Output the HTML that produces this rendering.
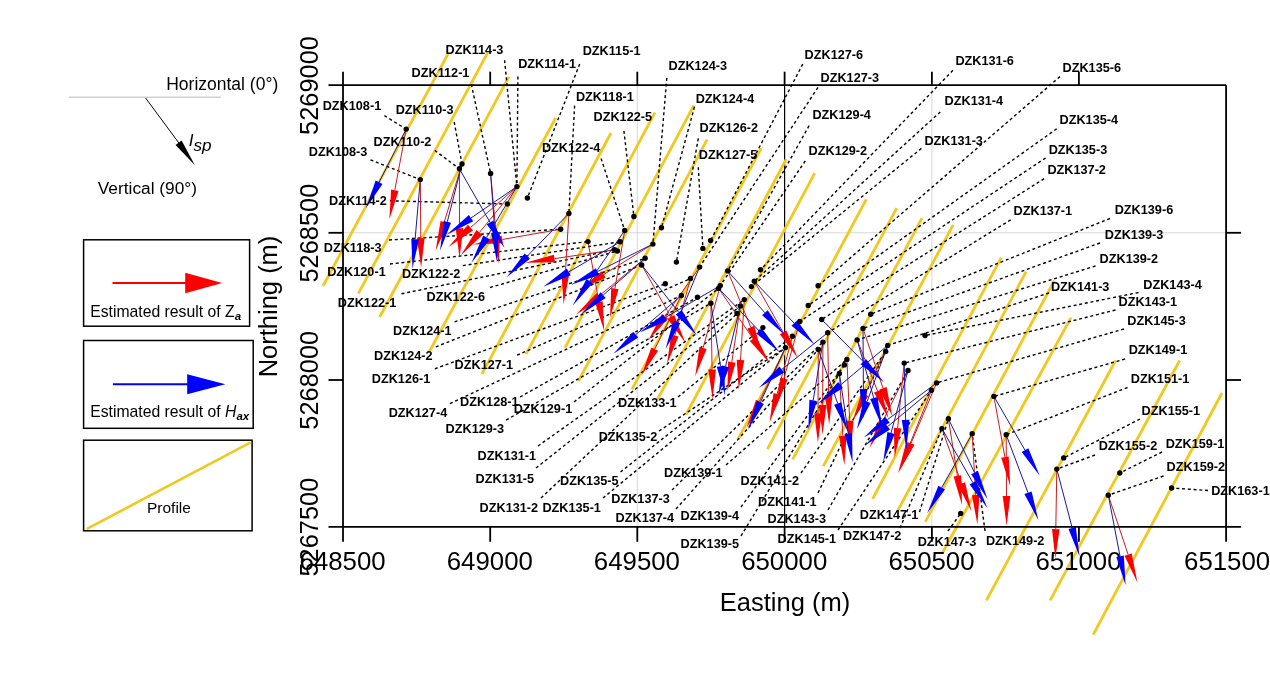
<!DOCTYPE html>
<html><head><meta charset="utf-8"><title>Figure</title>
<style>html,body{margin:0;padding:0;background:#fff;}body{width:1270px;height:696px;position:relative;overflow:hidden;font-family:"Liberation Sans",sans-serif;}</style></head>
<body>
<svg width="1270" height="696" viewBox="0 0 1270 696" style="position:absolute;left:0;top:0;font-family:'Liberation Sans',sans-serif;filter:opacity(1)">
<rect width="1270" height="696" fill="#fff"/>
<g stroke="#cdcdcd" stroke-width="0.8">
<line x1="637.3" y1="85.2" x2="637.3" y2="526.8"/>
<line x1="931.9" y1="85.2" x2="931.9" y2="526.8"/>
<line x1="343.0" y1="232.8" x2="1226.1" y2="232.8"/>
</g>
<line x1="784.6" y1="85.2" x2="784.6" y2="526.8" stroke="#000" stroke-width="1.2"/>
<g stroke="#F3C81E" stroke-width="2.8" stroke-linecap="butt">
<line x1="448.7" y1="52.7" x2="323" y2="286"/>
<line x1="487.7" y1="52.7" x2="358.3" y2="293.6"/>
<line x1="509" y1="76.6" x2="379.7" y2="317"/>
<line x1="555.7" y1="118" x2="429.1" y2="352.2"/>
<line x1="611" y1="133" x2="481.9" y2="374.2"/>
<line x1="654.9" y1="112.6" x2="526" y2="354.1"/>
<line x1="693.7" y1="105.6" x2="565" y2="347.8"/>
<line x1="707.1" y1="139.6" x2="578.4" y2="381.2"/>
<line x1="761.2" y1="148.4" x2="631.9" y2="389.3"/>
<line x1="786.4" y1="159" x2="657.6" y2="399.1"/>
<line x1="814.7" y1="173.1" x2="686.1" y2="414.5"/>
<line x1="866.3" y1="199.3" x2="737.8" y2="439.7"/>
<line x1="896.7" y1="208.2" x2="767.4" y2="449.2"/>
<line x1="922" y1="218.2" x2="792.6" y2="459.3"/>
<line x1="953.2" y1="224.9" x2="823.3" y2="466.1"/>
<line x1="1001.2" y1="257.6" x2="872.6" y2="498.9"/>
<line x1="1026.2" y1="271.6" x2="897.7" y2="510.7"/>
<line x1="1054.4" y1="280.5" x2="925.3" y2="521.9"/>
<line x1="1071" y1="317.6" x2="942.3" y2="553.1"/>
<line x1="1115.6" y1="360.5" x2="986.4" y2="600.3"/>
<line x1="1179.7" y1="360.5" x2="1050.1" y2="600.3"/>
<line x1="1222" y1="393" x2="1093.2" y2="634.6"/>
</g>
<g font-size="25.8" fill="#000" text-anchor="middle">
<text x="342.6" y="569.8">648500</text>
<text x="489.8" y="569.8">649000</text>
<text x="636.9" y="569.8">649500</text>
<text x="784.2" y="569.8">650000</text>
<text x="931.5" y="569.8">650500</text>
<text x="1078.5" y="569.8">651000</text>
<text x="1227.1" y="569.8">651500</text>
<text transform="translate(317.6,85.5) rotate(-90)" font-size="25.4">5269000</text>
<text transform="translate(317.6,233.10000000000002) rotate(-90)" font-size="25.4">5268500</text>
<text transform="translate(317.6,380.3) rotate(-90)" font-size="25.4">5268000</text>
<text transform="translate(317.6,527.0999999999999) rotate(-90)" font-size="25.4">5267500</text>
<text x="785" y="610.5" font-size="25.5">Easting (m)</text>
<text transform="translate(277,306.5) rotate(-90)" font-size="25.5">Northing (m)</text>
</g>
<g stroke="#000" stroke-width="1.4" stroke-dasharray="3 2.75" fill="none">
<line x1="384.4" y1="115.7" x2="406.2" y2="129.1"/>
<line x1="370.5" y1="159.8" x2="420.3" y2="179.6"/>
<line x1="434.8" y1="150.4" x2="459.4" y2="168.8"/>
<line x1="454.2" y1="122" x2="462" y2="164"/>
<line x1="471.3" y1="84.2" x2="490.6" y2="173.4"/>
<line x1="504.6" y1="60.2" x2="516.9" y2="186.6"/>
<line x1="517.9" y1="76.6" x2="516.9" y2="186.6"/>
<line x1="390" y1="200.8" x2="507.4" y2="204"/>
<line x1="579.7" y1="64" x2="527.4" y2="198"/>
<line x1="574.6" y1="105.6" x2="568.9" y2="213.5"/>
<line x1="623.9" y1="130.8" x2="633.9" y2="216.5"/>
<line x1="601.1" y1="158.5" x2="624.7" y2="230.5"/>
<line x1="666.8" y1="77.9" x2="652.9" y2="244.1"/>
<line x1="694.5" y1="106.8" x2="661.5" y2="227.7"/>
<line x1="698.3" y1="138.3" x2="676.4" y2="262.1"/>
<line x1="698.3" y1="167.3" x2="702.9" y2="248.4"/>
<line x1="802.8" y1="64" x2="710.6" y2="240.5"/>
<line x1="818" y1="87.4" x2="699.6" y2="267.1"/>
<line x1="809.1" y1="125.7" x2="727.7" y2="270.9"/>
<line x1="805.3" y1="161" x2="720.3" y2="285.6"/>
<line x1="952.9" y1="70.3" x2="760.5" y2="269.8"/>
<line x1="940.3" y1="111.9" x2="754.3" y2="281.3"/>
<line x1="921.4" y1="148.4" x2="751.4" y2="286.6"/>
<line x1="1060" y1="76.6" x2="818.1" y2="285.8"/>
<line x1="1056.7" y1="128.8" x2="808.2" y2="305.5"/>
<line x1="1045.6" y1="158" x2="799.8" y2="321.5"/>
<line x1="1044.1" y1="178.7" x2="821.7" y2="319.5"/>
<line x1="1010.7" y1="219.8" x2="827.7" y2="332.7"/>
<line x1="1110" y1="218.5" x2="870.7" y2="314.2"/>
<line x1="1100" y1="243" x2="863" y2="328.4"/>
<line x1="1095.5" y1="266" x2="857.1" y2="339.9"/>
<line x1="1049" y1="293" x2="887.7" y2="345.4"/>
<line x1="1138.5" y1="292.5" x2="925" y2="335.5"/>
<line x1="1115.5" y1="310" x2="904.2" y2="363.1"/>
<line x1="1124" y1="329" x2="936.6" y2="382.9"/>
<line x1="1125" y1="359" x2="993.9" y2="396.4"/>
<line x1="1127.5" y1="387.5" x2="1006.2" y2="434.8"/>
<line x1="1140" y1="419" x2="1063.7" y2="457.9"/>
<line x1="1095" y1="455" x2="1056.8" y2="469.1"/>
<line x1="1162" y1="452" x2="1119.8" y2="473"/>
<line x1="1163.5" y1="476" x2="1108.3" y2="495.2"/>
<line x1="1208" y1="490.5" x2="1171.6" y2="488"/>
<line x1="389" y1="240" x2="560.7" y2="229.2"/>
<line x1="390" y1="264" x2="588" y2="241.6"/>
<line x1="462.9" y1="265.6" x2="620.2" y2="241.8"/>
<line x1="401.5" y1="293.8" x2="614.6" y2="249.8"/>
<line x1="490" y1="287.5" x2="617.4" y2="251"/>
<line x1="454.6" y1="321.9" x2="645.1" y2="258.3"/>
<line x1="435.8" y1="346.9" x2="641.7" y2="265"/>
<line x1="517.1" y1="355.2" x2="690.5" y2="278.5"/>
<line x1="434.8" y1="368.8" x2="665.3" y2="283.8"/>
<line x1="449.9" y1="403.6" x2="681.4" y2="295.5"/>
<line x1="520" y1="397" x2="697.5" y2="297.2"/>
<line x1="574" y1="402" x2="718.6" y2="288.4"/>
<line x1="506.1" y1="420.1" x2="710.9" y2="303.2"/>
<line x1="538" y1="446" x2="744.3" y2="299.6"/>
<line x1="536" y1="468" x2="740.4" y2="306"/>
<line x1="541" y1="498" x2="737.1" y2="313.5"/>
<line x1="603" y1="498" x2="785.5" y2="347.6"/>
<line x1="620.5" y1="472" x2="792.4" y2="336.2"/>
<line x1="659" y1="431" x2="785.5" y2="347.6"/>
<line x1="678" y1="397" x2="762.9" y2="327.6"/>
<line x1="672" y1="490" x2="822.9" y2="342.1"/>
<line x1="676" y1="509" x2="818.3" y2="349.5"/>
<line x1="726" y1="465" x2="846.9" y2="359.4"/>
<line x1="741" y1="507" x2="844.4" y2="364.9"/>
<line x1="741" y1="536" x2="839.4" y2="373.5"/>
<line x1="801" y1="473" x2="885.7" y2="351.5"/>
<line x1="818" y1="493" x2="885.7" y2="351.5"/>
<line x1="828" y1="510" x2="908" y2="370.5"/>
<line x1="838" y1="530" x2="931.5" y2="390.2"/>
<line x1="919.5" y1="512" x2="948.4" y2="418.8"/>
<line x1="900" y1="528" x2="941.9" y2="428.6"/>
<line x1="948" y1="531" x2="960.7" y2="513.4"/>
<line x1="985" y1="531" x2="972.2" y2="433.8"/>
</g>
<line x1="406.2" y1="129.1" x2="394.8" y2="190.2" stroke="#c81e1e" stroke-width="1"/>
<line x1="420.3" y1="179.6" x2="420.8" y2="238.3" stroke="#c81e1e" stroke-width="1"/>
<line x1="462" y1="164" x2="444.2" y2="222.2" stroke="#c81e1e" stroke-width="1"/>
<line x1="459.4" y1="168.8" x2="459.5" y2="228.3" stroke="#c81e1e" stroke-width="1"/>
<line x1="490.6" y1="173.4" x2="496.1" y2="234.2" stroke="#c81e1e" stroke-width="1"/>
<line x1="516.9" y1="186.6" x2="470.5" y2="227.6" stroke="#c81e1e" stroke-width="1"/>
<line x1="516.9" y1="186.6" x2="479.4" y2="232.5" stroke="#c81e1e" stroke-width="1"/>
<line x1="560.7" y1="229.2" x2="502.3" y2="239.5" stroke="#c81e1e" stroke-width="1"/>
<line x1="614.6" y1="249.8" x2="554.5" y2="258.6" stroke="#c81e1e" stroke-width="1"/>
<line x1="568.9" y1="213.5" x2="565.3" y2="274.7" stroke="#c81e1e" stroke-width="1"/>
<line x1="652.9" y1="244.1" x2="603.6" y2="274.5" stroke="#c81e1e" stroke-width="1"/>
<line x1="645.1" y1="258.3" x2="599" y2="295.9" stroke="#c81e1e" stroke-width="1"/>
<line x1="588" y1="241.6" x2="598.9" y2="302" stroke="#c81e1e" stroke-width="1"/>
<line x1="624.7" y1="230.5" x2="614.9" y2="288.7" stroke="#c81e1e" stroke-width="1"/>
<line x1="641.7" y1="265" x2="670.9" y2="317" stroke="#c81e1e" stroke-width="1"/>
<line x1="681.4" y1="295.5" x2="654.7" y2="349.1" stroke="#c81e1e" stroke-width="1"/>
<line x1="699.6" y1="267.1" x2="665.1" y2="316.2" stroke="#c81e1e" stroke-width="1"/>
<line x1="690.5" y1="278.5" x2="674.8" y2="335.6" stroke="#c81e1e" stroke-width="1"/>
<line x1="720.3" y1="285.6" x2="703.1" y2="347.9" stroke="#c81e1e" stroke-width="1"/>
<line x1="710.9" y1="303.2" x2="712.1" y2="369.5" stroke="#c81e1e" stroke-width="1"/>
<line x1="740.4" y1="306" x2="731.8" y2="362.1" stroke="#c81e1e" stroke-width="1"/>
<line x1="744.3" y1="299.6" x2="740.5" y2="360.1" stroke="#c81e1e" stroke-width="1"/>
<line x1="718.6" y1="288.4" x2="753" y2="338.7" stroke="#c81e1e" stroke-width="1"/>
<line x1="754.3" y1="281.3" x2="783.2" y2="332.4" stroke="#c81e1e" stroke-width="1"/>
<line x1="792.4" y1="336.2" x2="777.1" y2="394.1" stroke="#c81e1e" stroke-width="1"/>
<line x1="799.8" y1="321.5" x2="783.9" y2="378.6" stroke="#c81e1e" stroke-width="1"/>
<line x1="727.7" y1="270.9" x2="750.8" y2="327.2" stroke="#c81e1e" stroke-width="1"/>
<line x1="785.5" y1="347.6" x2="759.4" y2="401.5" stroke="#c81e1e" stroke-width="1"/>
<line x1="818.3" y1="349.5" x2="818" y2="413.3" stroke="#c81e1e" stroke-width="1"/>
<line x1="822.9" y1="342.1" x2="822.7" y2="405" stroke="#c81e1e" stroke-width="1"/>
<line x1="827.7" y1="332.7" x2="828.7" y2="395.1" stroke="#c81e1e" stroke-width="1"/>
<line x1="839.4" y1="373.5" x2="842.8" y2="435.6" stroke="#c81e1e" stroke-width="1"/>
<line x1="846.9" y1="359.4" x2="849.7" y2="420.5" stroke="#c81e1e" stroke-width="1"/>
<line x1="887.7" y1="345.4" x2="865" y2="394.5" stroke="#c81e1e" stroke-width="1"/>
<line x1="863" y1="328.4" x2="883" y2="388.3" stroke="#c81e1e" stroke-width="1"/>
<line x1="904.2" y1="363.1" x2="897.6" y2="428.2" stroke="#c81e1e" stroke-width="1"/>
<line x1="857.1" y1="339.9" x2="877.6" y2="391.1" stroke="#c81e1e" stroke-width="1"/>
<line x1="908" y1="370.5" x2="882.7" y2="421.3" stroke="#c81e1e" stroke-width="1"/>
<line x1="936.6" y1="382.9" x2="911" y2="443.3" stroke="#c81e1e" stroke-width="1"/>
<line x1="931.5" y1="390.2" x2="909.1" y2="445.9" stroke="#c81e1e" stroke-width="1"/>
<line x1="941.9" y1="428.6" x2="961.5" y2="483.5" stroke="#c81e1e" stroke-width="1"/>
<line x1="972.2" y1="433.8" x2="975.7" y2="494.9" stroke="#c81e1e" stroke-width="1"/>
<line x1="948.4" y1="418.8" x2="957.4" y2="475.9" stroke="#c81e1e" stroke-width="1"/>
<line x1="993.9" y1="396.4" x2="1004.9" y2="457.1" stroke="#c81e1e" stroke-width="1"/>
<line x1="1006.2" y1="434.8" x2="1006.5" y2="495.9" stroke="#c81e1e" stroke-width="1"/>
<line x1="1056.8" y1="469.1" x2="1055.8" y2="529.1" stroke="#c81e1e" stroke-width="1"/>
<line x1="1108.3" y1="495.2" x2="1128.1" y2="554.6" stroke="#c81e1e" stroke-width="1"/>
<polygon points="391.1,189.5 389.4,219.2 398.5,190.9" fill="#ff0000"/>
<polygon points="417,238.3 421.1,267.8 424.6,238.3" fill="#ff0000"/>
<polygon points="440.6,221.1 435.6,250.4 447.9,223.3" fill="#ff0000"/>
<polygon points="455.7,228.3 459.5,257.8 463.3,228.3" fill="#ff0000"/>
<polygon points="492.3,234.6 498.8,263.6 499.9,233.9" fill="#ff0000"/>
<polygon points="468,224.7 448.4,247.1 473,230.4" fill="#ff0000"/>
<polygon points="476.5,230.1 460.8,255.4 482.4,234.9" fill="#ff0000"/>
<polygon points="501.6,235.7 473.2,244.6 502.9,243.2" fill="#ff0000"/>
<polygon points="553.9,254.8 525.3,262.8 555,262.3" fill="#ff0000"/>
<polygon points="561.5,274.4 563.6,304.1 569.1,274.9" fill="#ff0000"/>
<polygon points="601.6,271.3 578.5,290 605.6,277.7" fill="#ff0000"/>
<polygon points="596.6,292.9 576.1,314.5 601.4,298.8" fill="#ff0000"/>
<polygon points="595.2,302.7 604.2,331 602.7,301.3" fill="#ff0000"/>
<polygon points="611.2,288.1 610,317.8 618.6,289.3" fill="#ff0000"/>
<polygon points="667.6,318.9 685.4,342.7 674.3,315.1" fill="#ff0000"/>
<polygon points="651.3,347.4 641.5,375.5 658.1,350.8" fill="#ff0000"/>
<polygon points="662,314.1 648.2,340.4 668.2,318.4" fill="#ff0000"/>
<polygon points="671.2,334.5 667,364 678.5,336.6" fill="#ff0000"/>
<polygon points="699.4,346.9 695.2,376.3 706.7,348.9" fill="#ff0000"/>
<polygon points="708.3,369.6 712.6,399 715.9,369.4" fill="#ff0000"/>
<polygon points="728.1,361.6 727.4,391.3 735.6,362.7" fill="#ff0000"/>
<polygon points="736.7,359.8 738.7,389.5 744.3,360.3" fill="#ff0000"/>
<polygon points="749.8,340.9 769.6,363.1 756.1,336.6" fill="#ff0000"/>
<polygon points="779.9,334.3 797.7,358.1 786.5,330.5" fill="#ff0000"/>
<polygon points="773.5,393.1 769.6,422.6 780.8,395" fill="#ff0000"/>
<polygon points="780.3,377.6 776,407 787.6,379.6" fill="#ff0000"/>
<polygon points="747.3,328.7 762,354.5 754.3,325.8" fill="#ff0000"/>
<polygon points="756,399.8 746.5,428 762.8,403.1" fill="#ff0000"/>
<polygon points="814.2,413.3 817.9,442.8 821.8,413.3" fill="#ff0000"/>
<polygon points="818.9,405 822.6,434.5 826.5,405" fill="#ff0000"/>
<polygon points="824.9,395.2 829.2,424.6 832.5,395" fill="#ff0000"/>
<polygon points="839,435.9 844.4,465.1 846.6,435.4" fill="#ff0000"/>
<polygon points="845.9,420.7 851,450 853.5,420.4" fill="#ff0000"/>
<polygon points="861.5,392.9 852.6,421.3 868.4,396.1" fill="#ff0000"/>
<polygon points="879.4,389.5 892.3,416.3 886.6,387.1" fill="#ff0000"/>
<polygon points="893.8,427.8 894.6,457.5 901.4,428.5" fill="#ff0000"/>
<polygon points="874,392.5 888.5,418.5 881.1,389.7" fill="#ff0000"/>
<polygon points="879.3,419.6 869.5,447.7 886.1,423" fill="#ff0000"/>
<polygon points="907.5,441.9 899.5,470.5 914.5,444.8" fill="#ff0000"/>
<polygon points="905.6,444.5 898.1,473.3 912.6,447.3" fill="#ff0000"/>
<polygon points="957.9,484.8 971.4,511.3 965.1,482.2" fill="#ff0000"/>
<polygon points="971.9,495.2 977.4,524.4 979.5,494.7" fill="#ff0000"/>
<polygon points="953.6,476.5 962,505 961.2,475.3" fill="#ff0000"/>
<polygon points="1001.2,457.8 1010.2,486.1 1008.7,456.4" fill="#ff0000"/>
<polygon points="1002.7,495.9 1006.6,525.4 1010.3,495.9" fill="#ff0000"/>
<polygon points="1052,529 1055.3,558.6 1059.6,529.2" fill="#ff0000"/>
<polygon points="1124.5,555.8 1137.4,582.6 1131.7,553.4" fill="#ff0000"/>
<line x1="406.2" y1="129.1" x2="379.1" y2="182.2" stroke="#1a1a9c" stroke-width="1"/>
<line x1="420.3" y1="179.6" x2="415.1" y2="239.2" stroke="#1a1a9c" stroke-width="1"/>
<line x1="462" y1="164" x2="447.3" y2="221.8" stroke="#1a1a9c" stroke-width="1"/>
<line x1="459.4" y1="168.8" x2="490" y2="222.3" stroke="#1a1a9c" stroke-width="1"/>
<line x1="490.6" y1="173.4" x2="494.9" y2="232.6" stroke="#1a1a9c" stroke-width="1"/>
<line x1="516.9" y1="186.6" x2="471" y2="218" stroke="#1a1a9c" stroke-width="1"/>
<line x1="516.9" y1="186.6" x2="486.6" y2="237.5" stroke="#1a1a9c" stroke-width="1"/>
<line x1="568.9" y1="213.5" x2="527.3" y2="256.1" stroke="#1a1a9c" stroke-width="1"/>
<line x1="620.2" y1="241.8" x2="568.8" y2="271.9" stroke="#1a1a9c" stroke-width="1"/>
<line x1="652.9" y1="244.1" x2="597.5" y2="271.6" stroke="#1a1a9c" stroke-width="1"/>
<line x1="624.7" y1="230.5" x2="589.6" y2="281.2" stroke="#1a1a9c" stroke-width="1"/>
<line x1="645.1" y1="258.3" x2="603.2" y2="295.1" stroke="#1a1a9c" stroke-width="1"/>
<line x1="641.7" y1="265" x2="678.7" y2="312.3" stroke="#1a1a9c" stroke-width="1"/>
<line x1="681.4" y1="295.5" x2="635.8" y2="334.6" stroke="#1a1a9c" stroke-width="1"/>
<line x1="720.3" y1="285.6" x2="665" y2="317.7" stroke="#1a1a9c" stroke-width="1"/>
<line x1="699.6" y1="267.1" x2="676.9" y2="321.8" stroke="#1a1a9c" stroke-width="1"/>
<line x1="710.9" y1="303.2" x2="720.5" y2="366.2" stroke="#1a1a9c" stroke-width="1"/>
<line x1="740.4" y1="306" x2="725.5" y2="366.4" stroke="#1a1a9c" stroke-width="1"/>
<line x1="718.6" y1="288.4" x2="759.1" y2="330.9" stroke="#1a1a9c" stroke-width="1"/>
<line x1="727.7" y1="270.9" x2="764.9" y2="312.8" stroke="#1a1a9c" stroke-width="1"/>
<line x1="754.3" y1="281.3" x2="794.2" y2="323.2" stroke="#1a1a9c" stroke-width="1"/>
<line x1="827.7" y1="332.7" x2="781.8" y2="369.5" stroke="#1a1a9c" stroke-width="1"/>
<line x1="785.5" y1="347.6" x2="760.4" y2="402.4" stroke="#1a1a9c" stroke-width="1"/>
<line x1="821.7" y1="319.5" x2="863.3" y2="361.6" stroke="#1a1a9c" stroke-width="1"/>
<line x1="887.7" y1="345.4" x2="840.5" y2="385" stroke="#1a1a9c" stroke-width="1"/>
<line x1="822.9" y1="342.1" x2="813.2" y2="400.4" stroke="#1a1a9c" stroke-width="1"/>
<line x1="818.3" y1="349.5" x2="837.7" y2="403.4" stroke="#1a1a9c" stroke-width="1"/>
<line x1="839.4" y1="373.5" x2="848.3" y2="433.4" stroke="#1a1a9c" stroke-width="1"/>
<line x1="863" y1="328.4" x2="863.4" y2="389" stroke="#1a1a9c" stroke-width="1"/>
<line x1="887.7" y1="345.4" x2="867.1" y2="401.6" stroke="#1a1a9c" stroke-width="1"/>
<line x1="857.1" y1="339.9" x2="873.8" y2="398.1" stroke="#1a1a9c" stroke-width="1"/>
<line x1="936.6" y1="382.9" x2="887.4" y2="419.7" stroke="#1a1a9c" stroke-width="1"/>
<line x1="931.5" y1="390.2" x2="887.6" y2="426.6" stroke="#1a1a9c" stroke-width="1"/>
<line x1="908" y1="370.5" x2="891" y2="433" stroke="#1a1a9c" stroke-width="1"/>
<line x1="904.2" y1="363.1" x2="905.6" y2="419.9" stroke="#1a1a9c" stroke-width="1"/>
<line x1="972.2" y1="433.8" x2="941.7" y2="487.6" stroke="#1a1a9c" stroke-width="1"/>
<line x1="948.4" y1="418.8" x2="974.6" y2="472.7" stroke="#1a1a9c" stroke-width="1"/>
<line x1="941.9" y1="428.6" x2="972.9" y2="482.7" stroke="#1a1a9c" stroke-width="1"/>
<line x1="993.9" y1="396.4" x2="1025" y2="450.2" stroke="#1a1a9c" stroke-width="1"/>
<line x1="1006.2" y1="434.8" x2="1028" y2="492.7" stroke="#1a1a9c" stroke-width="1"/>
<line x1="1056.8" y1="469.1" x2="1072.2" y2="528" stroke="#1a1a9c" stroke-width="1"/>
<line x1="1108.3" y1="495.2" x2="1120" y2="556.2" stroke="#1a1a9c" stroke-width="1"/>
<polygon points="375.7,180.5 365.7,208.5 382.5,183.9" fill="#0000ff"/>
<polygon points="411.3,238.9 412.5,268.6 418.9,239.5" fill="#0000ff"/>
<polygon points="443.7,220.9 440.1,250.4 451,222.7" fill="#0000ff"/>
<polygon points="486.7,224.2 504.6,247.9 493.3,220.4" fill="#0000ff"/>
<polygon points="491.1,232.9 497,262 498.7,232.3" fill="#0000ff"/>
<polygon points="468.9,214.9 446.7,234.7 473.2,221.2" fill="#0000ff"/>
<polygon points="483.3,235.5 471.5,262.8 489.9,239.4" fill="#0000ff"/>
<polygon points="524.6,253.4 506.7,277.2 530,258.7" fill="#0000ff"/>
<polygon points="566.8,268.6 543.3,286.8 570.7,275.2" fill="#0000ff"/>
<polygon points="595.8,268.2 571.1,284.7 599.2,275" fill="#0000ff"/>
<polygon points="586.5,279 572.8,305.4 592.7,283.3" fill="#0000ff"/>
<polygon points="600.7,292.2 581,314.5 605.7,297.9" fill="#0000ff"/>
<polygon points="675.7,314.6 696.9,335.5 681.7,309.9" fill="#0000ff"/>
<polygon points="633.3,331.7 613.4,353.8 638.3,337.5" fill="#0000ff"/>
<polygon points="663.1,314.4 639.5,332.5 666.9,321" fill="#0000ff"/>
<polygon points="673.4,320.4 665.6,349.1 680.4,323.3" fill="#0000ff"/>
<polygon points="716.8,366.8 725,395.4 724.3,365.7" fill="#0000ff"/>
<polygon points="721.9,365.4 718.5,395 729.2,367.3" fill="#0000ff"/>
<polygon points="756.4,333.6 779.5,352.3 761.9,328.3" fill="#0000ff"/>
<polygon points="762.1,315.3 784.5,334.8 767.7,310.2" fill="#0000ff"/>
<polygon points="791.5,325.8 814.6,344.5 797,320.5" fill="#0000ff"/>
<polygon points="779.4,366.5 758.8,387.9 784.2,372.4" fill="#0000ff"/>
<polygon points="756.9,400.8 748.1,429.2 763.8,404" fill="#0000ff"/>
<polygon points="860.6,364.3 884,382.6 866,358.9" fill="#0000ff"/>
<polygon points="838.1,382.1 817.9,404 842.9,387.9" fill="#0000ff"/>
<polygon points="809.4,399.8 808.3,429.5 816.9,401" fill="#0000ff"/>
<polygon points="834.1,404.7 847.7,431.2 841.3,402.2" fill="#0000ff"/>
<polygon points="844.5,434 852.6,462.6 852,432.9" fill="#0000ff"/>
<polygon points="859.6,389 863.6,418.5 867.2,389" fill="#0000ff"/>
<polygon points="863.5,400.3 856.9,429.3 870.6,402.9" fill="#0000ff"/>
<polygon points="870.2,399.1 882,426.4 877.5,397" fill="#0000ff"/>
<polygon points="885.1,416.7 863.8,437.4 889.7,422.8" fill="#0000ff"/>
<polygon points="885.2,423.6 864.9,445.4 890,429.5" fill="#0000ff"/>
<polygon points="887.4,432 883.3,461.5 894.7,434" fill="#0000ff"/>
<polygon points="901.8,420 906.4,449.4 909.4,419.8" fill="#0000ff"/>
<polygon points="938.4,485.8 927.2,513.3 945,489.5" fill="#0000ff"/>
<polygon points="971.2,474.3 987.5,499.2 978,471" fill="#0000ff"/>
<polygon points="969.6,484.6 987.5,508.3 976.1,480.8" fill="#0000ff"/>
<polygon points="1021.7,452.1 1039.7,475.8 1028.3,448.3" fill="#0000ff"/>
<polygon points="1024.4,494 1038.4,520.3 1031.6,491.4" fill="#0000ff"/>
<polygon points="1068.5,528.9 1079.6,556.5 1075.8,527" fill="#0000ff"/>
<polygon points="1116.3,556.9 1125.6,585.2 1123.8,555.5" fill="#0000ff"/>
<g fill="#000">
<circle cx="406.2" cy="129.1" r="2.7"/>
<circle cx="420.3" cy="179.6" r="2.7"/>
<circle cx="462" cy="164" r="2.7"/>
<circle cx="459.4" cy="168.8" r="2.7"/>
<circle cx="490.6" cy="173.4" r="2.7"/>
<circle cx="516.9" cy="186.6" r="2.7"/>
<circle cx="507.4" cy="204" r="2.7"/>
<circle cx="527.4" cy="198" r="2.7"/>
<circle cx="568.9" cy="213.5" r="2.7"/>
<circle cx="560.7" cy="229.2" r="2.7"/>
<circle cx="588" cy="241.6" r="2.7"/>
<circle cx="633.9" cy="216.5" r="2.7"/>
<circle cx="624.7" cy="230.5" r="2.7"/>
<circle cx="620.2" cy="241.8" r="2.7"/>
<circle cx="614.6" cy="249.8" r="2.7"/>
<circle cx="617.4" cy="251" r="2.7"/>
<circle cx="661.5" cy="227.7" r="2.7"/>
<circle cx="652.9" cy="244.1" r="2.7"/>
<circle cx="645.1" cy="258.3" r="2.7"/>
<circle cx="641.7" cy="265" r="2.7"/>
<circle cx="676.4" cy="262.1" r="2.7"/>
<circle cx="665.3" cy="283.8" r="2.7"/>
<circle cx="710.6" cy="240.5" r="2.7"/>
<circle cx="702.9" cy="248.4" r="2.7"/>
<circle cx="699.6" cy="267.1" r="2.7"/>
<circle cx="690.5" cy="278.5" r="2.7"/>
<circle cx="681.4" cy="295.5" r="2.7"/>
<circle cx="697.5" cy="297.2" r="2.7"/>
<circle cx="727.7" cy="270.9" r="2.7"/>
<circle cx="720.3" cy="285.6" r="2.7"/>
<circle cx="718.6" cy="288.4" r="2.7"/>
<circle cx="710.9" cy="303.2" r="2.7"/>
<circle cx="760.5" cy="269.8" r="2.7"/>
<circle cx="754.3" cy="281.3" r="2.7"/>
<circle cx="751.4" cy="286.6" r="2.7"/>
<circle cx="744.3" cy="299.6" r="2.7"/>
<circle cx="740.4" cy="306" r="2.7"/>
<circle cx="737.1" cy="313.5" r="2.7"/>
<circle cx="762.9" cy="327.6" r="2.7"/>
<circle cx="818.1" cy="285.8" r="2.7"/>
<circle cx="808.2" cy="305.5" r="2.7"/>
<circle cx="799.8" cy="321.5" r="2.7"/>
<circle cx="792.4" cy="336.2" r="2.7"/>
<circle cx="785.5" cy="347.6" r="2.7"/>
<circle cx="821.7" cy="319.5" r="2.7"/>
<circle cx="827.7" cy="332.7" r="2.7"/>
<circle cx="822.9" cy="342.1" r="2.7"/>
<circle cx="818.3" cy="349.5" r="2.7"/>
<circle cx="870.7" cy="314.2" r="2.7"/>
<circle cx="863" cy="328.4" r="2.7"/>
<circle cx="857.1" cy="339.9" r="2.7"/>
<circle cx="846.9" cy="359.4" r="2.7"/>
<circle cx="844.4" cy="364.9" r="2.7"/>
<circle cx="839.4" cy="373.5" r="2.7"/>
<circle cx="887.7" cy="345.4" r="2.7"/>
<circle cx="885.7" cy="351.5" r="2.7"/>
<circle cx="925" cy="335.5" r="2.7"/>
<circle cx="904.2" cy="363.1" r="2.7"/>
<circle cx="908" cy="370.5" r="2.7"/>
<circle cx="936.6" cy="382.9" r="2.7"/>
<circle cx="931.5" cy="390.2" r="2.7"/>
<circle cx="948.4" cy="418.8" r="2.7"/>
<circle cx="941.9" cy="428.6" r="2.7"/>
<circle cx="960.7" cy="513.4" r="2.7"/>
<circle cx="993.9" cy="396.4" r="2.7"/>
<circle cx="972.2" cy="433.8" r="2.7"/>
<circle cx="1006.2" cy="434.8" r="2.7"/>
<circle cx="1063.7" cy="457.9" r="2.7"/>
<circle cx="1056.8" cy="469.1" r="2.7"/>
<circle cx="1119.8" cy="473" r="2.7"/>
<circle cx="1108.3" cy="495.2" r="2.7"/>
<circle cx="1171.6" cy="488" r="2.7"/>
</g>
<g stroke="#000" stroke-width="1.8" fill="none">
<line x1="328.5" y1="85.2" x2="1226.1" y2="85.2"/>
<line x1="328.5" y1="526.8" x2="1241.1" y2="526.8"/>
<line x1="343.0" y1="71.7" x2="343.0" y2="541.8"/>
<line x1="1226.1" y1="85.2" x2="1226.1" y2="541.8"/>
<line x1="490.2" y1="71.7" x2="490.2" y2="85.2"/>
<line x1="490.2" y1="526.8" x2="490.2" y2="541.8"/>
<line x1="637.3" y1="71.7" x2="637.3" y2="85.2"/>
<line x1="637.3" y1="526.8" x2="637.3" y2="541.8"/>
<line x1="784.6" y1="71.7" x2="784.6" y2="85.2"/>
<line x1="784.6" y1="526.8" x2="784.6" y2="541.8"/>
<line x1="931.9" y1="71.7" x2="931.9" y2="85.2"/>
<line x1="931.9" y1="526.8" x2="931.9" y2="541.8"/>
<line x1="1078.9" y1="71.7" x2="1078.9" y2="85.2"/>
<line x1="1078.9" y1="526.8" x2="1078.9" y2="541.8"/>
<line x1="328.5" y1="232.8" x2="343.0" y2="232.8"/>
<line x1="1226.1" y1="232.8" x2="1241.1" y2="232.8"/>
<line x1="328.5" y1="380.0" x2="343.0" y2="380.0"/>
<line x1="1226.1" y1="380.0" x2="1241.1" y2="380.0"/>
</g>
<g font-size="12.7" font-weight="bold" fill="#000">
<text x="322.7" y="110.1">DZK108-1</text>
<text x="308.8" y="155.5">DZK108-3</text>
<text x="373.6" y="145.9">DZK110-2</text>
<text x="395.7" y="113.9">DZK110-3</text>
<text x="411.6" y="77.4">DZK112-1</text>
<text x="445.6" y="53.9">DZK114-3</text>
<text x="518.2" y="67.8">DZK114-1</text>
<text x="329" y="204.6">DZK114-2</text>
<text x="582.7" y="55.2">DZK115-1</text>
<text x="575.9" y="100.5">DZK118-1</text>
<text x="593.5" y="121.2">DZK122-5</text>
<text x="541.9" y="151.7">DZK122-4</text>
<text x="668.5" y="69.8">DZK124-3</text>
<text x="695.7" y="102.6">DZK124-4</text>
<text x="699.5" y="131.5">DZK126-2</text>
<text x="698.8" y="159">DZK127-5</text>
<text x="804.6" y="59">DZK127-6</text>
<text x="820.5" y="81.6">DZK127-3</text>
<text x="812.4" y="118.7">DZK129-4</text>
<text x="808.6" y="154.7">DZK129-2</text>
<text x="955.4" y="65.3">DZK131-6</text>
<text x="944.6" y="105.1">DZK131-4</text>
<text x="924.4" y="144.6">DZK131-3</text>
<text x="1062.5" y="71.6">DZK135-6</text>
<text x="1059.5" y="123.7">DZK135-4</text>
<text x="1048.7" y="153.5">DZK135-3</text>
<text x="1047.4" y="173.6">DZK137-2</text>
<text x="1013.6" y="214.8">DZK137-1</text>
<text x="1114.7" y="214.4">DZK139-6</text>
<text x="1104.8" y="238.9">DZK139-3</text>
<text x="1099.6" y="262.8">DZK139-2</text>
<text x="1050.9" y="290.6">DZK141-3</text>
<text x="1143.3" y="289">DZK143-4</text>
<text x="1118.5" y="306.1">DZK143-1</text>
<text x="1127.3" y="324.5">DZK145-3</text>
<text x="1128.7" y="354.4">DZK149-1</text>
<text x="1130.8" y="383.1">DZK151-1</text>
<text x="1141.6" y="414.6">DZK155-1</text>
<text x="1098.7" y="450.4">DZK155-2</text>
<text x="1165.7" y="447.5">DZK159-1</text>
<text x="1166.6" y="471.4">DZK159-2</text>
<text x="1211.2" y="494.7">DZK163-1</text>
<text x="323.8" y="251.5">DZK118-3</text>
<text x="327.2" y="276.3">DZK120-1</text>
<text x="401.9" y="277.7">DZK122-2</text>
<text x="337.8" y="307">DZK122-1</text>
<text x="426.5" y="301.4">DZK122-6</text>
<text x="393.1" y="335.2">DZK124-1</text>
<text x="374" y="360.2">DZK124-2</text>
<text x="454.6" y="368.8">DZK127-1</text>
<text x="371.8" y="382.6">DZK126-1</text>
<text x="388.7" y="416.7">DZK127-4</text>
<text x="460" y="405.8">DZK128-1</text>
<text x="513.7" y="413.4">DZK129-1</text>
<text x="445.6" y="433">DZK129-3</text>
<text x="477.6" y="460.2">DZK131-1</text>
<text x="475.6" y="483.4">DZK131-5</text>
<text x="479.6" y="512.4">DZK131-2</text>
<text x="542.4" y="512.4">DZK135-1</text>
<text x="560" y="485.2">DZK135-5</text>
<text x="598.7" y="441.3">DZK135-2</text>
<text x="618.1" y="406.6">DZK133-1</text>
<text x="611.3" y="502.8">DZK137-3</text>
<text x="615.6" y="521.7">DZK137-4</text>
<text x="664" y="477.1">DZK139-1</text>
<text x="680.6" y="520">DZK139-4</text>
<text x="680.5" y="548">DZK139-5</text>
<text x="740.6" y="485.4">DZK141-2</text>
<text x="758" y="505.6">DZK141-1</text>
<text x="767.5" y="522.5">DZK143-3</text>
<text x="777.6" y="542.6">DZK145-1</text>
<text x="859.8" y="518.8">DZK147-1</text>
<text x="842.9" y="539.5">DZK147-2</text>
<text x="917.7" y="546.2">DZK147-3</text>
<text x="985.9" y="544.9">DZK149-2</text>
</g>
<line x1="69" y1="97.2" x2="221" y2="97.2" stroke="#b8b8b8" stroke-width="1"/>
<line x1="145.6" y1="98" x2="180" y2="144.5" stroke="#000" stroke-width="1"/>
<polygon points="194.9,165.2 175.6,144.9 181.6,140.5" fill="#000"/>
<text x="166.2" y="89.7" font-size="17.5">Horizontal (0°)</text>
<text x="97.8" y="194.3" font-size="17.3">Vertical (90°)</text>
<text x="188.7" y="145.8" font-size="17.2" font-style="italic">I<tspan dy="4.9">sp</tspan></text>
<g fill="none" stroke="#000" stroke-width="1.5">
<rect x="83.6" y="239.8" width="166.0" height="86.4"/>
<rect x="83.6" y="340.5" width="169.6" height="87.8"/>
<rect x="83.6" y="440.2" width="168.5" height="90.6"/>
</g>
<line x1="112.5" y1="283" x2="187" y2="283" stroke="#ff0000" stroke-width="1.9"/>
<polygon points="185.2,272.8 222.2,283 185.2,293.2" fill="#ff0000"/>
<line x1="112.9" y1="384.2" x2="189" y2="384.2" stroke="#0000ff" stroke-width="1.9"/>
<polygon points="187.2,374.2 225.4,384.2 187.2,394.2" fill="#0000ff"/>
<line x1="86.9" y1="528.9" x2="250.6" y2="442.4" stroke="#F3C81E" stroke-width="2.6"/>
<g font-size="15.75">
<text x="90.2" y="316.6">Estimated result of Z<tspan font-style="italic" font-weight="bold" font-size="11.5" dy="3">a</tspan></text>
<text x="90.2" y="416.6">Estimated result of <tspan font-style="italic">H</tspan><tspan font-style="italic" font-weight="bold" font-size="11.5" dy="3">ax</tspan></text>
<text x="147" y="513" font-size="15.5">Profile</text>
</g>
</svg>
</body></html>
